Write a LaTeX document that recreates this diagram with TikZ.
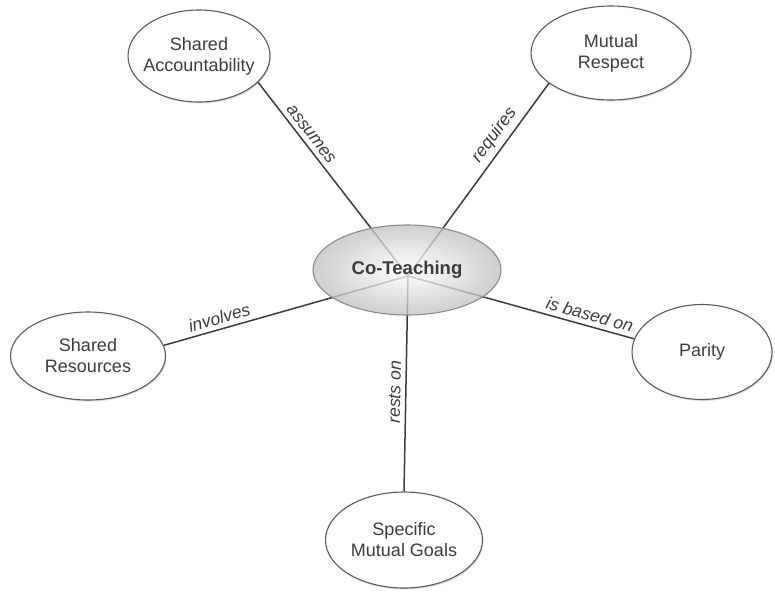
\documentclass[tikz,border=0pt]{standalone}
\usepackage{fontspec}
\setmainfont{Liberation Sans}
\usetikzlibrary{shapes.geometric,shadows}
\definecolor{ink}{HTML}{3C3C3C}
\definecolor{rim}{HTML}{5A5A5A}
\begin{document}
\begin{tikzpicture}[x=1pt,y=-1pt,
  leaf/.style={ellipse, draw=rim, line width=1.1pt, fill=white, inner sep=0pt,
    drop shadow={shadow xshift=1pt, shadow yshift=-1.5pt, opacity=0.25}},
  nodetext/.style={align=center, text=ink, font=\fontsize{18}{21}\selectfont},
  hubnode/.style={ellipse, draw=black!45, line width=1.1pt, inner sep=0pt,
    shading=radial, inner color=white, outer color=black!24, fill opacity=0.78},
  link/.style={draw=ink, line width=1.5pt},
  lbl/.style={sloped, above, text=ink, inner sep=4.5pt, font=\itshape\fontsize{17.5}{19}\selectfont}]
\useasboundingbox (0,0) rectangle (775,592);
% outer concepts
\node[leaf, minimum width=142pt, minimum height=92pt,
  label={[nodetext]center:Shared\\Accountability}] (acc) at (199,56) {};
\node[leaf, minimum width=160pt, minimum height=94pt,
  label={[nodetext]center:Mutual\\Respect}] (mr) at (611,53) {};
\node[leaf, minimum width=155pt, minimum height=88pt,
  label={[nodetext]center:Shared\\Resources}] (sr) at (88,356) {};
\node[leaf, minimum width=140pt, minimum height=95pt,
  label={[nodetext]center:Parity}] (par) at (702,352) {};
\node[leaf, minimum width=157pt, minimum height=96pt,
  label={[nodetext]center:Specific\\Mutual Goals}] (goals) at (404,540) {};
\coordinate (hub) at (408,276);
% connectors
\draw[link] (acc.-24) -- node[lbl, pos=0.3] {assumes} (hub);
\draw[link] (mr.206) -- node[lbl, pos=0.31] {requires} (hub);
\draw[link] (sr.8) -- node[lbl, pos=0.24] {involves} (hub);
\draw[link] (hub) -- node[lbl, pos=0.79] {is based on} (par.169);
\draw[link] (goals.north) -- node[lbl, pos=0.46] {rests on} (hub);
% central concept
\node[hubnode, minimum width=188pt, minimum height=90pt] (ct) at (407,270) {};
\node[text=ink, font=\bfseries\fontsize{18.5}{21}\selectfont] (ctlabel) at (ct) {Co-Teaching};
\end{tikzpicture}
\end{document}
